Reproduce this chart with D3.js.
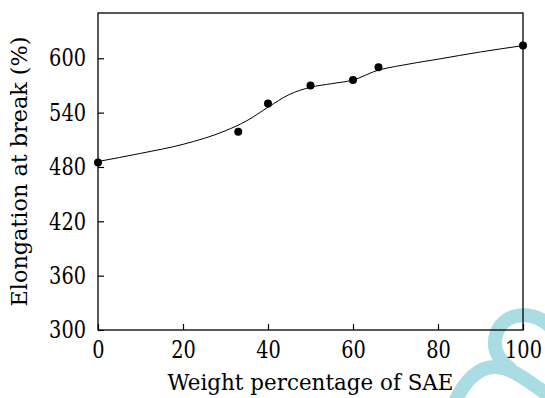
<!DOCTYPE html>
<html lang="en">
<head>
    <meta charset="UTF-8">
    <title>Elongation at break vs SAE content</title>
    <script src="https://cdn.jsdelivr.net/npm/d3@7"></script>
    <style>
        body {
            margin: 0;
            padding: 0;
            background-color: #fff;
        }
        #chart text {
            font-family: "DejaVu Serif", serif;
        }
    </style>
</head>
<body>
<svg id="chart" width="545" height="398"></svg>
<script>
    // measured points
    const saeWeight = [0, 33, 40, 50, 60, 66, 100];
    const elongation = [485, 519, 550, 570, 576, 590, 614];

    // fitted curve
    const fitWeight = [0, 10, 20, 30, 35, 40, 45, 50, 55, 60, 66, 70, 80, 90, 100];
    const fitElongation = [486, 495, 505, 520, 531, 546, 560, 568, 572, 576, 587, 591, 599, 607, 614];

    const xTicks = [0, 20, 40, 60, 80, 100];
    const yTicks = [300, 360, 420, 480, 540, 600];

    const margin = {top: 13, right: 22, bottom: 68, left: 98};
    const width = 545 - margin.left - margin.right;
    const height = 398 - margin.top - margin.bottom;

    const svg = d3.select("#chart");

    // publisher watermark (decoration, sits behind everything)
    const mark = svg.append("g")
        .attr("fill", "none")
        .attr("stroke", "#a9dde3")
        .attr("stroke-width", 14)
        .attr("stroke-linecap", "butt");
    mark.append("path")
        .attr("d", "M550,326 C532,310 505,312 497,332 C491,348 498,360 512,370");
    mark.append("path")
        .attr("d", "M455,402 C464,382 478,366 496,367 C515,368 532,385 550,396");

    const g = svg.append("g")
        .attr("transform", `translate(${margin.left},${margin.top})`);

    const x = d3.scaleLinear().domain([0, 100]).range([0, width]);
    const y = d3.scaleLinear().domain([300, 650]).range([height, 0]);

    // frame
    g.append("rect")
        .attr("width", width)
        .attr("height", height)
        .attr("fill", "none")
        .attr("stroke", "#000")
        .attr("stroke-width", 1.3);

    const xAxis = g.append("g")
        .attr("transform", `translate(0,${height})`)
        .call(d3.axisBottom(x).tickValues(xTicks).tickSizeInner(-6).tickSizeOuter(0).tickPadding(11));

    const yAxis = g.append("g")
        .call(d3.axisLeft(y).tickValues(yTicks).tickSizeInner(-6).tickSizeOuter(0).tickPadding(12));

    // DejaVu Serif is wider than the original Times face, squeeze it a bit
    [xAxis, yAxis].forEach(ax => {
        ax.attr("font-family", null);
        ax.select(".domain").remove();
        ax.selectAll("line").attr("stroke", "#000").attr("stroke-width", 1.2);
        ax.selectAll("text")
            .attr("font-size", 24)
            .attr("fill", "#000")
            .attr("textLength", d => String(d).length * 12.3)
            .attr("lengthAdjust", "spacingAndGlyphs");
    });
    xAxis.selectAll("text").attr("dy", "0.71em");

    // fitted line
    const fitData = fitWeight.map((w, i) => [w, fitElongation[i]]);
    g.append("path")
        .datum(fitData)
        .attr("fill", "none")
        .attr("stroke", "#000")
        .attr("stroke-width", 1)
        .attr("d", d3.line()
            .x(d => x(d[0]))
            .y(d => y(d[1]))
            .curve(d3.curveMonotoneX));

    // points
    g.append("g")
        .selectAll("circle")
        .data(saeWeight.map((w, i) => [w, elongation[i]]))
        .enter().append("circle")
        .attr("cx", d => x(d[0]))
        .attr("cy", d => y(d[1]))
        .attr("r", 4)
        .attr("fill", "#000");

    // axis titles
    svg.append("text")
        .attr("x", margin.left + width / 2)
        .attr("y", 390)
        .attr("text-anchor", "middle")
        .attr("font-size", 23)
        .attr("fill", "#000")
        .attr("textLength", 286)
        .attr("lengthAdjust", "spacingAndGlyphs")
        .text("Weight percentage of SAE");

    svg.append("text")
        .attr("transform", `translate(27,${margin.top + height / 2}) rotate(-90)`)
        .attr("text-anchor", "middle")
        .attr("font-size", 23)
        .attr("fill", "#000")
        .attr("textLength", 270)
        .attr("lengthAdjust", "spacingAndGlyphs")
        .text("Elongation at break (%)");
</script>
</body>
</html>
